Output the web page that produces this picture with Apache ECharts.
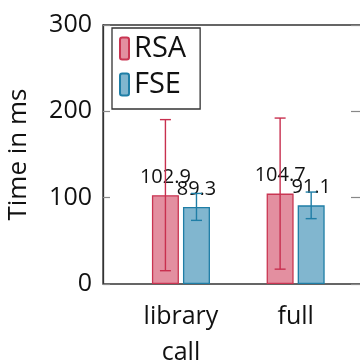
<!DOCTYPE html>
<html>
<head>
<meta charset="utf-8">
<script src="https://cdn.jsdelivr.net/npm/echarts@6/dist/echarts.min.js"></script>
<style>html,body{margin:0;padding:0;background:#fff}#c{width:360px;height:364px}</style>
</head>
<body>
<div id="c"></div>
<script>
const categories = ['library\ncall', 'full'];
const seriesNames = ['RSA', 'FSE'];
const rsaMeans = [102.9, 104.7];
const rsaErr = [87.5, 87.5];
const fseMeans = [89.3, 91.1];
const fseErr = [15.6, 15.4];
const yTicks = [0, 100, 200, 300];

const FONT = 'Open Sans';
const BAR_W = 27, BAR_GAP_PCT = 15;
const half = (BAR_W + BAR_W * BAR_GAP_PCT / 100) / 2;

const rsaStyle = {fill: 'rgba(214,90,115,0.68)', stroke: '#c93552', err: '#c8304f'};
const fseStyle = {fill: 'rgba(70,148,184,0.68)', stroke: '#1f7ea6', err: '#1f7ea6'};

function errSeries(name, means, errs, sign, color) {
  return {
    type: 'custom', xAxisIndex: 1, yAxisIndex: 2, z: 5, silent: true,
    data: means.map((m, i) => [i, m - errs[i], m + errs[i]]),
    renderItem: function (params, api) {
      const lo = api.coord([api.value(0), api.value(1)]);
      const hi = api.coord([api.value(0), api.value(2)]);
      const x = lo[0] + sign * half;
      const cw = 5.5;
      const st = {stroke: color, lineWidth: 1.4};
      return {type: 'group', children: [
        {type: 'line', shape: {x1: x, y1: lo[1], x2: x, y2: hi[1]}, style: st},
        {type: 'line', shape: {x1: x - cw, y1: lo[1], x2: x + cw, y2: lo[1]}, style: st},
        {type: 'line', shape: {x1: x - cw, y1: hi[1], x2: x + cw, y2: hi[1]}, style: st}
      ]};
    }
  };
}

const chart = echarts.init(document.getElementById('c'), null, {renderer: 'canvas'});
chart.setOption({
  animation: false,
  textStyle: {fontFamily: FONT},
  grid: [
    {left: 103, top: 25, right: -2, bottom: 80, show: true, borderColor: '#333', borderWidth: 1.3, backgroundColor: 'transparent', containLabel: false, outerBoundsMode: 'none'},
    {left: 123.6, width: 229.4, top: 25, bottom: 80, containLabel: false, outerBoundsMode: 'none'}
  ],
  legend: {
    orient: 'vertical', left: 112, top: 28,
    padding: [6, 14, 10, 7],
    itemWidth: 9, itemHeight: 22, itemGap: 7,
    borderColor: '#333', borderWidth: 1.3, backgroundColor: '#fff',
    textStyle: {fontFamily: FONT, fontSize: 29, color: '#111'},
    data: seriesNames, z: 10
  },
  xAxis: [
    {type: 'value', gridIndex: 0, show: false, min: 0, max: 1},
    {type: 'category', gridIndex: 1, data: categories, position: 'bottom',
     axisLine: {show: false},
     axisTick: {alignWithLabel: true, inside: false, length: 10, lineStyle: {color: '#888', width: 1.2}},
     axisLabel: {fontFamily: FONT, fontSize: 25, color: '#111', lineHeight: 36, margin: 15}},
    {type: 'category', gridIndex: 1, data: categories, position: 'top',
     axisLine: {show: false},
     axisTick: {alignWithLabel: true, inside: false, length: 10, lineStyle: {color: '#888', width: 1.2}},
     axisLabel: {show: false}}
  ],
  yAxis: [
    {type: 'value', gridIndex: 0, min: yTicks[0], max: yTicks[yTicks.length - 1], interval: 100, position: 'left',
     name: 'Time in ms', nameLocation: 'middle', nameGap: 71,
     nameTextStyle: {fontFamily: FONT, fontSize: 26, color: '#111'},
     axisLine: {show: true, lineStyle: {color: '#333', width: 1.3}},
     axisTick: {show: true, inside: true, length: 7, lineStyle: {color: '#888', width: 1.2}},
     axisLabel: {fontFamily: FONT, fontSize: 25, color: '#111', margin: 11},
     splitLine: {show: false}},
    {type: 'value', gridIndex: 0, min: 0, max: 300, interval: 100, position: 'right',
     axisLine: {show: false},
     axisTick: {show: true, inside: true, length: 11, lineStyle: {color: '#888', width: 1.2}},
     axisLabel: {show: false}, splitLine: {show: false}},
    {type: 'value', gridIndex: 1, min: 0, max: 300, interval: 100, show: false, splitLine: {show: false}}
  ],
  series: [
    {name: 'RSA', type: 'bar', xAxisIndex: 1, yAxisIndex: 2, data: rsaMeans,
     barWidth: BAR_W, barGap: BAR_GAP_PCT + '%',
     itemStyle: {color: rsaStyle.fill, borderColor: rsaStyle.stroke, borderWidth: 1.3},
     label: {show: true, position: 'top', distance: 8, fontFamily: FONT, fontSize: 20, color: '#111'}},
    {name: 'FSE', type: 'bar', xAxisIndex: 1, yAxisIndex: 2, data: fseMeans,
     barWidth: BAR_W, barGap: BAR_GAP_PCT + '%',
     itemStyle: {color: fseStyle.fill, borderColor: fseStyle.stroke, borderWidth: 1.3},
     label: {show: true, position: 'top', distance: 8, fontFamily: FONT, fontSize: 20, color: '#111'}},
    errSeries('RSA', rsaMeans, rsaErr, -1, rsaStyle.err),
    errSeries('FSE', fseMeans, fseErr, 1, fseStyle.err)
  ]
});
</script>
</body>
</html>
